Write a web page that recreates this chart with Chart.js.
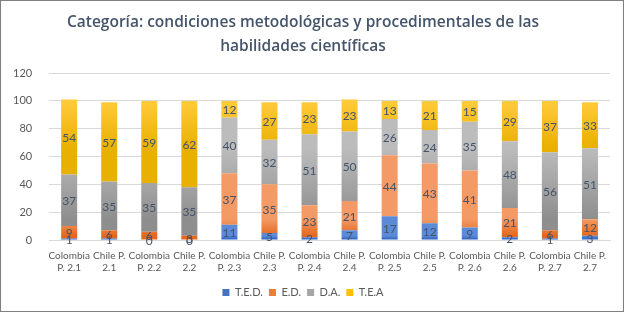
<!DOCTYPE html>
<html>
<head>
<meta charset="utf-8">
<script src="https://cdn.jsdelivr.net/npm/chart.js@4"></script>
<style>
  html, body { margin: 0; padding: 0; background: #fff; }
  #wrap { position: relative; width: 622px; height: 310px; border: 1px solid #7f7f7f; }
</style>
</head>
<body>
<div id="wrap"><canvas id="chart" width="622" height="310"></canvas></div>
<script>
// categories (two-line labels)
const categories = [
  ['Colombia', 'P. 2.1'], ['Chile P.', '2.1'],
  ['Colombia', 'P. 2.2'], ['Chile P.', '2.2'],
  ['Colombia', 'P. 2.3'], ['Chile P.', '2.3'],
  ['Colombia', 'P. 2.4'], ['Chile P.', '2.4'],
  ['Colombia', 'P. 2.5'], ['Chile P.', '2.5'],
  ['Colombia', 'P. 2.6'], ['Chile P.', '2.6'],
  ['Colombia', 'P. 2.7'], ['Chile P.', '2.7']
];

// series values
const ted = [1, 1, 0, 0, 11, 5, 2, 7, 17, 12, 9, 2, 1, 3];
const ed  = [9, 6, 6, 3, 37, 35, 23, 21, 44, 43, 41, 21, 6, 12];
const da  = [37, 35, 35, 35, 40, 32, 51, 50, 26, 24, 35, 48, 56, 51];
const tea = [54, 57, 59, 62, 12, 27, 23, 23, 13, 21, 15, 29, 37, 33];

const seriesNames = ['T.E.D.', 'E.D.', 'D.A.', 'T.E.A'];
const yTicks = [0, 20, 40, 60, 80, 100, 120];

// colour pairs for the light-to-dark fill of each series
const fills = [
  ['#5b8ad8', '#2f62bd'],
  ['#f39a66', '#e5671c'],
  ['#bcbcbc', '#8e8e8e'],
  ['#ffca3a', '#e8b000']
];
const solid = ['#4472c4', '#ed7d31', '#a5a5a5', '#ffc000'];

const font = '"Lato", sans-serif';

// paint each segment with a vertical gradient
const gradientPlugin = {
  id: 'gradientFill',
  beforeDatasetsDraw(chart) {
    const ctx = chart.ctx;
    chart.data.datasets.forEach((ds, i) => {
      const meta = chart.getDatasetMeta(i);
      meta.data.forEach(bar => {
        const top = Math.min(bar.y, bar.base);
        const bottom = Math.max(bar.y, bar.base);
        const g = ctx.createLinearGradient(0, top, 0, bottom + 0.01);
        g.addColorStop(0, fills[i][0]);
        g.addColorStop(1, fills[i][1]);
        bar.options.backgroundColor = g;
      });
    });
  }
};

// value labels in the middle of each segment
const labelPlugin = {
  id: 'segmentLabels',
  afterDatasetsDraw(chart) {
    const ctx = chart.ctx;
    ctx.save();
    ctx.font = '12px ' + font;
    ctx.fillStyle = '#44546a';
    ctx.textAlign = 'center';
    ctx.textBaseline = 'middle';
    chart.data.datasets.forEach((ds, i) => {
      const meta = chart.getDatasetMeta(i);
      meta.data.forEach((bar, j) => {
        const y = (bar.y + bar.base) / 2;
        ctx.fillText(String(ds.data[j]), bar.x, y + 1);
      });
    });
    ctx.restore();
  }
};

const ctx = document.getElementById('chart').getContext('2d');
new Chart(ctx, {
  type: 'bar',
  data: {
    labels: categories,
    datasets: [
      { label: seriesNames[0], data: ted, backgroundColor: solid[0] },
      { label: seriesNames[1], data: ed, backgroundColor: solid[1] },
      { label: seriesNames[2], data: da, backgroundColor: solid[2] },
      { label: seriesNames[3], data: tea, backgroundColor: solid[3] }
    ].map(d => Object.assign(d, {
      borderWidth: 0,
      categoryPercentage: 1,
      barPercentage: 0.4
    }))
  },
  options: {
    responsive: false,
    animation: false,
    layout: { padding: { left: -5, right: 13, top: 4, bottom: 3 } },
    plugins: {
      title: {
        display: true,
        text: ['Categoría: condiciones metodológicas y procedimentales de las', 'habilidades científicas'],
        color: '#44546a',
        font: { family: '"Open Sans", sans-serif', size: 15.5, weight: '600', lineHeight: 1.55 },
        padding: { top: 6, bottom: 14 }
      },
      legend: {
        position: 'bottom',
        labels: {
          color: '#595959',
          font: { family: font, size: 11 },
          boxWidth: 7,
          boxHeight: 7,
          padding: 6
        }
      },
      tooltip: { enabled: false }
    },
    scales: {
      x: {
        stacked: true,
        grid: { display: false, drawTicks: false },
        border: { color: '#d9d9d9' },
        afterFit(scale) { scale.height -= 3; },
        ticks: {
          color: '#595959',
          font: { family: font, size: 10 },
          maxRotation: 0,
          autoSkip: false,
          padding: 10
        }
      },
      y: {
        stacked: true,
        min: 0,
        max: 120,
        afterBuildTicks(axis) { axis.ticks = yTicks.map(v => ({ value: v })); },
        grid: { color: '#d9d9d9', drawTicks: false },
        border: { display: false },
        ticks: {
          color: '#595959',
          font: { family: font, size: 11 },
          padding: 17
        }
      }
    }
  },
  plugins: [gradientPlugin, labelPlugin]
});
</script>
</body>
</html>
